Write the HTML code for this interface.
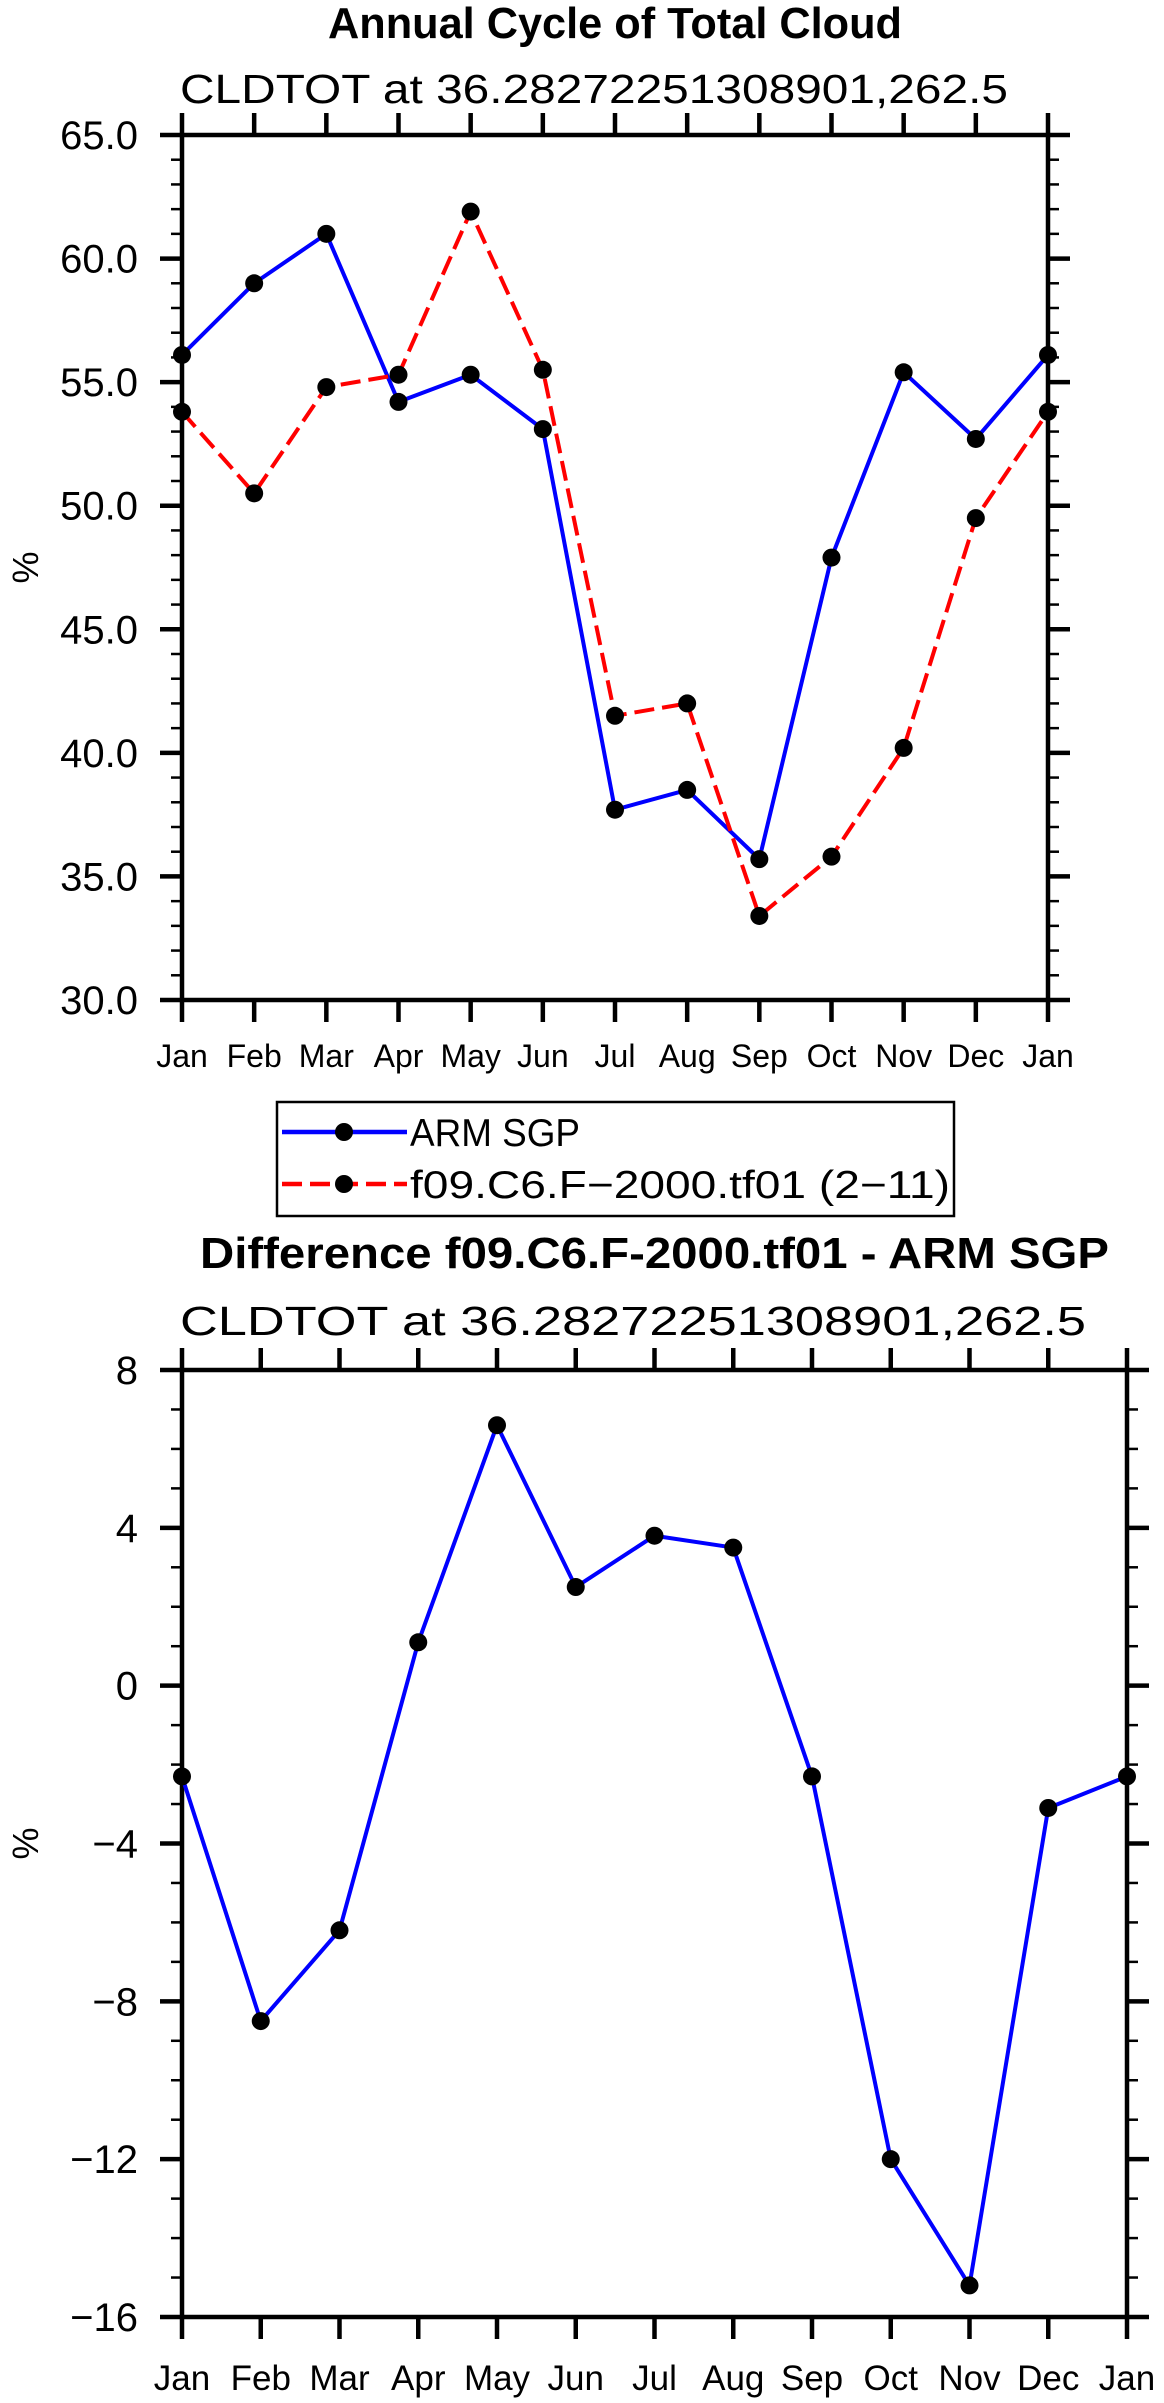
<!DOCTYPE html>
<html><head><meta charset="utf-8"><style>
html,body{margin:0;padding:0;background:#fff;}
svg{display:block;font-family:"Liberation Sans",sans-serif;}
</style></head><body>
<svg id="svg" width="1164" height="2403" viewBox="0 0 1164 2403" xmlns="http://www.w3.org/2000/svg">
<g id="p1"></g>
<g id="leg">
  <rect x="277" y="1102" width="677" height="114" fill="none" stroke="#000" stroke-width="2.5"/>
  <line x1="282" y1="1132" x2="407" y2="1132" stroke="#0000ff" stroke-width="4.5"/>
  <circle cx="344" cy="1132" r="9" fill="#000"/>
  <text x="410" y="1146" font-size="39" textLength="170" lengthAdjust="spacingAndGlyphs">ARM SGP</text>
  <line x1="282" y1="1184" x2="407" y2="1184" stroke="#ff0000" stroke-width="4.5" stroke-dasharray="20 8"/>
  <circle cx="344" cy="1184" r="9" fill="#000"/>
  <text x="410" y="1198" font-size="39" textLength="540" lengthAdjust="spacingAndGlyphs">f09.C6.F−2000.tf01 (2−11)</text>
</g>
<g id="p2"></g>
</svg>
<script>
const months = ["Jan","Feb","Mar","Apr","May","Jun","Jul","Aug","Sep","Oct","Nov","Dec","Jan"];
const armSgp = [56.1,59.0,61.0,54.2,55.3,53.1,37.7,38.5,35.7,47.9,55.4,52.7,56.1];
const model = [53.8,50.5,54.8,55.3,61.9,55.5,41.5,42.0,33.4,35.8,40.2,49.5,53.8];
const diff = [-2.3,-8.5,-6.2,1.1,6.6,2.5,3.8,3.5,-2.3,-12.0,-15.2,-3.1,-2.3];
const ticks1 = [30,35,40,45,50,55,60,65];
const tickLabels1 = ["30.0","35.0","40.0","45.0","50.0","55.0","60.0","65.0"];
const ticks2 = [-16,-12,-8,-4,0,4,8];
const tickLabels2 = ["−16","−12","−8","−4","0","4","8"];

const NS = "http://www.w3.org/2000/svg";
function mk(parent, tag, attrs, text){
  const e = document.createElementNS(NS, tag);
  for (const k in attrs) e.setAttribute(k, attrs[k]);
  if (text !== undefined) e.textContent = text;
  parent.appendChild(e);
  return e;
}

function panel(g, cfg){
  const {L,R,T,B,ymin,ymax,minorStep,ticks,tickLabels,series,title,titleW,titleY,sub,subW,subY,tickFont,monthFont,monthY} = cfg;
  const x = i => L + (R-L)*i/12;
  const y = v => B - (v-ymin)/(ymax-ymin)*(B-T);
  let t = mk(g,"text",{x:(L+R)/2,y:titleY,"font-size":44,"font-weight":"bold","text-anchor":"middle",textLength:titleW,lengthAdjust:"spacingAndGlyphs"},title);
  
  
  t = mk(g,"text",{x:L-2,y:subY,"font-size":41,textLength:subW,lengthAdjust:"spacingAndGlyphs"},sub);
  
  
  const fr = mk(g,"rect",{x:L,y:T,width:R-L,height:B-T,fill:"none",stroke:"#000","stroke-width":4.5});
  
  
  for (let v = ymin; v <= ymax+1e-9; v += minorStep){
    const major = ticks.some(tv => Math.abs(tv-v) < 1e-6);
    const len = major ? 22 : 11;
    const w = major ? 4.5 : 2.5;
    const yy = y(v);
    let l = mk(g,"line",{x1:L-len,y1:yy,x2:L,y2:yy,stroke:"#000","stroke-width":w});
    
    
    l = mk(g,"line",{x1:R,y1:yy,x2:R+len,y2:yy,stroke:"#000","stroke-width":w});
    
    
  }
  ticks.forEach((v,i)=>{
    const tl = mk(g,"text",{x:L-44,y:y(v)+14,"font-size":tickFont,"text-anchor":"end"},tickLabels[i]);
    
    
  });
  months.forEach((m,i)=>{
    const xx = x(i);
    let l = mk(g,"line",{x1:xx,y1:T-22,x2:xx,y2:T,stroke:"#000","stroke-width":4.5});
    
    
    l = mk(g,"line",{x1:xx,y1:B,x2:xx,y2:B+22,stroke:"#000","stroke-width":4.5});
    
    
    const tl = mk(g,"text",{x:xx,y:monthY,"font-size":monthFont,"text-anchor":"middle"},m);
    
    
  });
  const yt = mk(g,"text",{x:0,y:0,"font-size":36,"text-anchor":"middle",transform:`translate(38,${(T+B)/2}) rotate(-90)`},"%");
  
  
  series.forEach(s=>{
    const pts = s.values.map((v,i)=>`${x(i)},${y(v)}`).join(" ");
    const attrs = {points:pts,fill:"none",stroke:s.color,"stroke-width":4,"stroke-linejoin":"round"};
    if (s.dash) attrs["stroke-dasharray"] = s.dash;
    const pl = mk(g,"polyline",attrs);
    
    
  });
  series.forEach(s=>{
    s.values.forEach((v,i)=>{
      const c = mk(g,"circle",{cx:x(i),cy:y(v),r:9,fill:"#000"});
      
      
    });
  });
}

panel(document.getElementById("p1"),{
  L:182,R:1048,T:135,B:1000,ymin:30,ymax:65,minorStep:1,ticks:ticks1,tickLabels:tickLabels1,
  series:[{name:"arm-sgp",values:armSgp,color:"#0000ff"},{name:"model",values:model,color:"#ff0000",dash:"20 8"}],
  title:"Annual Cycle of Total Cloud",titleW:574,titleY:38,
  sub:"CLDTOT at 36.28272251308901,262.5",subW:828,subY:103,tickFont:40,monthFont:32,monthY:1067
});
panel(document.getElementById("p2"),{
  L:182,R:1127,T:1370,B:2317,ymin:-16,ymax:8,minorStep:1,ticks:ticks2,tickLabels:tickLabels2,
  series:[{name:"difference",values:diff,color:"#0000ff"}],
  title:"Difference f09.C6.F-2000.tf01 - ARM SGP",titleW:909,titleY:1268,
  sub:"CLDTOT at 36.28272251308901,262.5",subW:906,subY:1335,tickFont:40,monthFont:35,monthY:2390
});
</script>
</body></html>
